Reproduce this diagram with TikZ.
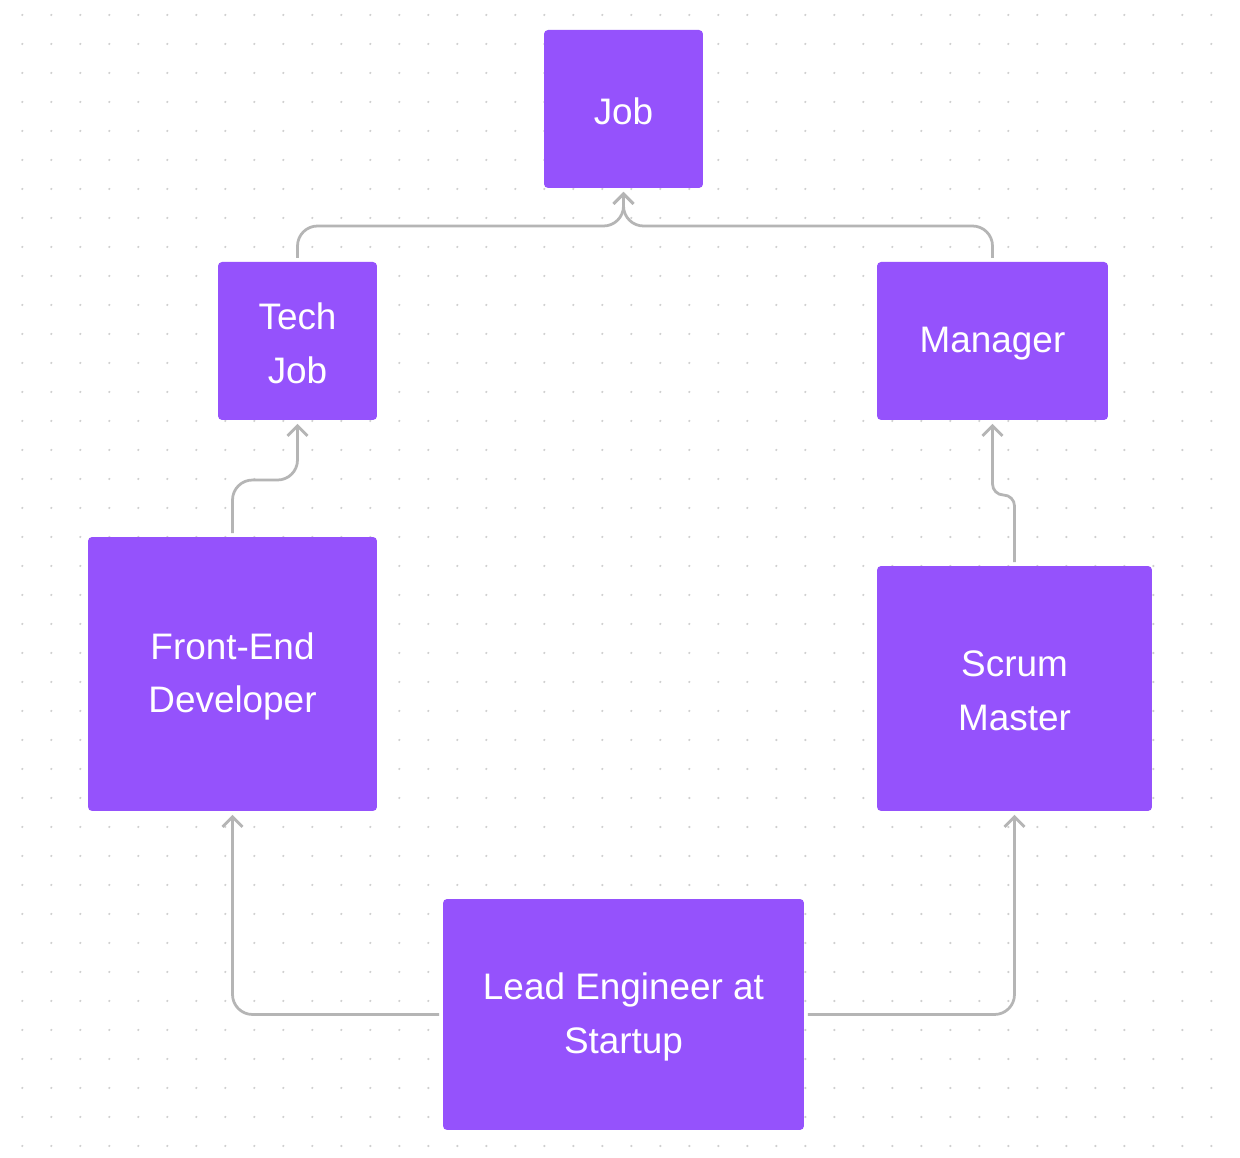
\documentclass[tikz,border=0pt]{standalone}
\usepackage{fontspec}
\setmainfont{Liberation Sans}
\usetikzlibrary{arrows.meta}
\definecolor{boxpurple}{HTML}{9552FC}
\definecolor{connGray}{HTML}{B5B5B5}
\definecolor{dotGray}{HTML}{CFCFCF}
\tikzset{
  jobbox/.style={rectangle, fill=boxpurple, rounded corners=0.08cm, inner sep=0pt, outer sep=0.08cm},
  boxtext/.style={text=white, align=center, font=\fontsize{21}{30.6}\selectfont, yshift=-0.05cm},
  conn/.style={draw=connGray, line width=0.055cm, -{Straight Barb[length=0.2cm,width=0.4cm]}},
}
\begin{document}
\begin{tikzpicture}[x=0.02cm,y=0.02cm]
\useasboundingbox[fill=white] (0,0) rectangle (1240,1158);
% dot grid
\foreach \i in {0,...,41}{
  \foreach \j in {0,...,39}{
    \fill[dotGray] ({22.3+29*\i},{1158-15-29*\j}) circle (1.2);
  }
}
% boxes
\node[jobbox, minimum width=3.18cm, minimum height=3.16cm, label={[boxtext]center:Job}] (job) at (623.5,1049) {};
\node[jobbox, minimum width=3.18cm, minimum height=3.16cm, label={[boxtext]center:Tech\\Job}] (tech) at (297.5,817) {};
\node[jobbox, minimum width=4.62cm, minimum height=3.16cm, label={[boxtext]center:Manager}] (mgr) at (992.5,817) {};
\node[jobbox, minimum width=5.78cm, minimum height=5.48cm, label={[boxtext]center:Front-End\\Developer}] (fe) at (232.5,484) {};
\node[jobbox, minimum width=5.50cm, minimum height=4.90cm, label={[boxtext]center:Scrum\\Master}] (sm) at (1014.5,469.5) {};
\node[jobbox, minimum width=7.22cm, minimum height=4.62cm, label={[boxtext]center:Lead Engineer at\\Startup}] (lead) at (623.5,143.5) {};
% connectors
\draw[conn, rounded corners=0.4cm] (tech.north) -- ++(0,32) -| (job.south);
\draw[conn, rounded corners=0.4cm] (mgr.north) -- ++(0,32) -| (job.south);
\draw[conn, rounded corners=0.4cm] (fe.north) -- ++(0,53) -| (tech.south);
\draw[conn, rounded corners=0.22cm] (sm.north) -- ++(0,67) -| (mgr.south);
\draw[conn, rounded corners=0.4cm] (lead.west) -| (fe.south);
\draw[conn, rounded corners=0.4cm] (lead.east) -| (sm.south);
\end{tikzpicture}
\end{document}
